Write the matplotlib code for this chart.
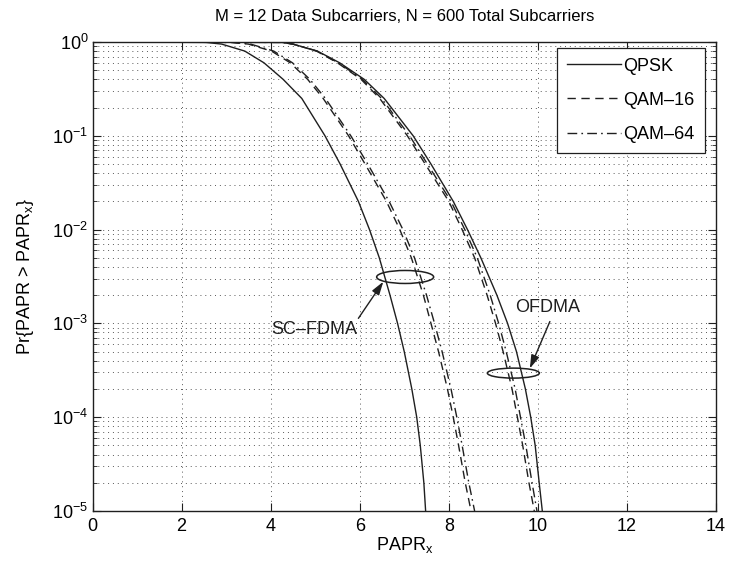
import numpy as np
import matplotlib
matplotlib.use("Agg")
import matplotlib.pyplot as plt
from matplotlib.patches import Ellipse

plt.rcParams['font.family'] = ['Liberation Sans', 'DejaVu Sans']
plt.rcParams['mathtext.fontset'] = 'custom'
plt.rcParams['mathtext.rm'] = 'Liberation Sans'
plt.rcParams['mathtext.it'] = 'Liberation Sans'

# CCDF levels, and PAPR (dB) at each level
prob_levels = [1.0, 0.99, 0.95, 0.8, 0.6, 0.4, 0.25, 0.1, 0.05, 0.02, 1e-2,
               5e-3, 2e-3, 1e-3, 5e-4, 2e-4, 1e-4, 5e-5, 2e-5, 1e-5]

sc_qpsk = [0, 2.55, 2.9, 3.42, 3.85, 4.28, 4.7, 5.22, 5.56, 5.97, 6.22,
           6.44, 6.68, 6.85, 7.0, 7.17, 7.28, 7.36, 7.44, 7.48]
sc_qam16 = [0, 3.1, 3.5, 4.02, 4.44, 4.83, 5.18, 5.75, 6.12, 6.6, 6.9,
            7.16, 7.43, 7.6, 7.77, 7.97, 8.1, 8.22, 8.37, 8.5]
sc_qam64 = [0, 3.15, 3.55, 4.07, 4.49, 4.88, 5.23, 5.8, 6.18, 6.66, 6.97,
            7.23, 7.5, 7.68, 7.85, 8.05, 8.18, 8.3, 8.45, 8.58]
of_qpsk = [0, 4.25, 4.5, 5.05, 5.55, 6.1, 6.55, 7.2, 7.6, 8.1, 8.42,
           8.72, 9.08, 9.32, 9.52, 9.72, 9.84, 9.94, 10.03, 10.1]
of_qam16 = [0, 4.25, 4.5, 5.03, 5.5, 6.03, 6.45, 7.07, 7.47, 8.0, 8.3,
            8.58, 8.86, 9.05, 9.22, 9.42, 9.54, 9.66, 9.8, 9.92]
of_qam64 = [0, 4.25, 4.5, 5.04, 5.52, 6.06, 6.49, 7.12, 7.52, 8.05, 8.36,
            8.64, 8.93, 9.12, 9.29, 9.49, 9.61, 9.73, 9.87, 9.98]

labels = ['QPSK', 'QAM\u201316', 'QAM\u201364']
styles = ['-', (0, (6, 4)), (0, (7, 3, 1.2, 3))]
ink = '0.12'

fig = plt.figure(figsize=(7.32, 5.66), dpi=100)
ax = fig.add_axes([92.5 / 732, 55 / 566, 623.5 / 732, 469 / 566])

for xs, ls, lab in zip([sc_qpsk, sc_qam16, sc_qam64], styles, labels):
    ax.semilogy(xs, prob_levels, color=ink, lw=1.0, linestyle=ls, label=lab)
for xs, ls in zip([of_qpsk, of_qam16, of_qam64], styles):
    ax.semilogy(xs, prob_levels, color=ink, lw=1.0, linestyle=ls)

ax.set_xlim(0, 14)
ax.set_ylim(1e-5, 1)
ax.set_xticks(np.arange(0, 15, 2))

ax.grid(True, which='major', axis='both', color='0.35', linestyle=(0, (1, 4)), lw=0.7)
ax.grid(True, which='minor', axis='y', color='0.35', linestyle=(0, (1, 4)), lw=0.7)
ax.tick_params(which='both', direction='in', top=True, right=True,
               labelsize=13, color=ink)
ax.tick_params(which='major', length=6, pad=5)
ax.tick_params(which='minor', length=3)
ax.tick_params(axis='y', which='major', pad=3)
for sp in ax.spines.values():
    sp.set_color(ink)
    sp.set_linewidth(1.0)

ax.set_title('M = 12 Data Subcarriers, N = 600 Total Subcarriers', fontsize=12, pad=15)
ax.set_xlabel(r'PAPR$_\mathrm{x}$', fontsize=13, labelpad=0)
ax.set_ylabel(r'Pr{PAPR > PAPR$_\mathrm{x}$}', fontsize=13, labelpad=12)

leg = ax.legend(loc='upper right', bbox_to_anchor=(0.982, 0.988), borderaxespad=0,
                fontsize=13, handlelength=3.0, handletextpad=0.15, labelspacing=0.95,
                borderpad=0.55, fancybox=False, framealpha=1, edgecolor=ink)
leg.get_frame().set_linewidth(0.9)


def ring(x, y, w_px, h_px):
    cx, cy = ax.transAxes.inverted().transform(ax.transData.transform((x, y)))
    ax.add_patch(Ellipse((cx, cy), w_px / 623.5, h_px / 469, transform=ax.transAxes,
                         fill=False, edgecolor=ink, lw=1.1, zorder=5))


ring(7.02, 10 ** -2.505, 57, 13)
ring(9.45, 10 ** -3.53, 52, 10)

arrow = dict(arrowstyle='-|>,head_length=0.8,head_width=0.25', color=ink, lw=1.0,
             shrinkA=0, shrinkB=0)
ax.annotate('', xy=(6.53, 10 ** -2.555), xytext=(5.97, 10 ** -2.946), arrowprops=arrow)
ax.annotate('', xy=(9.82, 10 ** -3.48), xytext=(10.27, 10 ** -2.98), arrowprops=arrow)
ax.text(5.94, 10 ** -3.07, 'SC\u2013FDMA', ha='right', va='center', fontsize=13, color=ink)
ax.text(10.23, 10 ** -2.83, 'OFDMA', ha='center', va='center', fontsize=13, color=ink)

fig.savefig('out.png', dpi=100, facecolor='white')
